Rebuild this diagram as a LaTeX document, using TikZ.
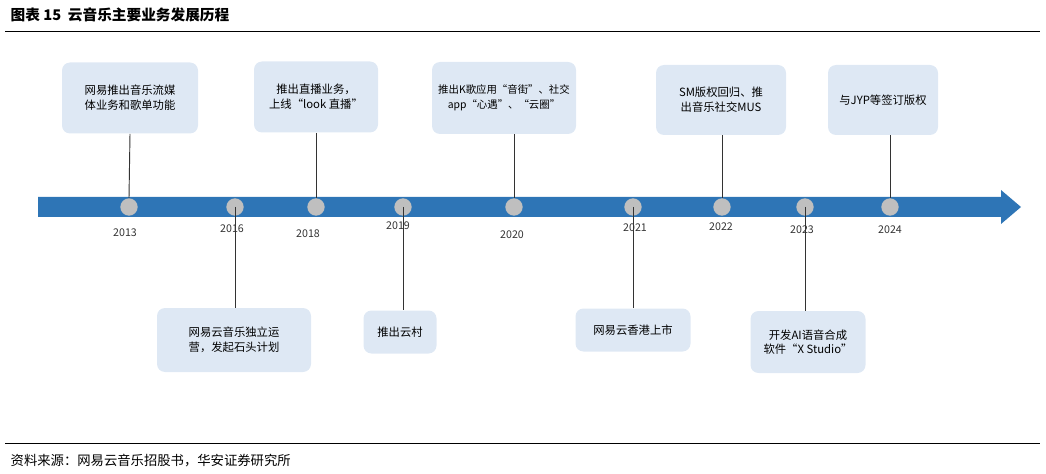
\documentclass[tikz,border=0pt]{standalone}
\usepackage{fontspec}
\setmainfont{Noto Sans CJK SC}
\begin{document}
\begin{tikzpicture}[x=0.75pt,y=-0.75pt,
 ev/.style={fill=boxc,rounded corners=6pt,align=center,font=\fontsize{8.5}{11}\selectfont,inner sep=0pt},
 dot/.style={circle,fill=dotc,minimum size=13pt,inner sep=0pt},
 yr/.style={font=\fontsize{8}{10}\selectfont,text=black!80},
 stem/.style={draw=black!80,line width=0.7pt}]
\definecolor{boxc}{HTML}{DEE8F4}
\definecolor{dotc}{HTML}{BFBFBF}
\definecolor{arrc}{HTML}{2E75B6}
\useasboundingbox (0,0) rectangle (1046,474);
\node[anchor=west,font=\bfseries\fontsize{11}{13}\selectfont] (title) at (6,15) {图表 15\ \ 云音乐主要业务发展历程};
\draw[line width=0.6pt] (5,31) -- (1040,31);
\draw[line width=0.6pt] (5,443) -- (1040,443);
\node[anchor=west,font=\fontsize{10}{12}\selectfont] (src) at (6,461) {资料来源：网易云音乐招股书，华安证券研究所};
% arrow
\fill[arrc] (38,197) -- (1001,197) -- (1001,190) -- (1021,207) -- (1001,224) -- (1001,217) -- (38,217) -- cycle;
% top boxes
\node[ev,minimum width=136*0.75pt,minimum height=71*0.75pt] (b13) at (130,98) {网易推出音乐流媒\\体业务和歌单功能};
\node[ev,minimum width=124*0.75pt,minimum height=71*0.75pt] (b18) at (316,97) {推出直播业务，\\上线“look 直播”};
\node[ev,minimum width=144*0.75pt,minimum height=72*0.75pt,font=\fontsize{7.8}{11}\selectfont] (b20) at (504,98) {推出K歌应用“音街”、社交\\app“心遇”、“云圈”};
\node[ev,minimum width=130*0.75pt,minimum height=70*0.75pt] (b22) at (721,100) {SM版权回归、推\\出音乐社交MUS};
\node[ev,minimum width=110*0.75pt,minimum height=70*0.75pt] (b24) at (883,100) {与JYP等签订版权};
% bottom boxes
\node[ev,minimum width=154*0.75pt,minimum height=64*0.75pt] (b16) at (234,340) {网易云音乐独立运\\营，发起石头计划};
\node[ev,minimum width=73*0.75pt,minimum height=43*0.75pt] (b19) at (400,332) {推出云村};
\node[ev,minimum width=115*0.75pt,minimum height=43*0.75pt] (b21) at (633,330) {网易云香港上市};
\node[ev,minimum width=115*0.75pt,minimum height=62*0.75pt] (b23) at (808,342) {开发AI语音合成\\软件“X Studio”};
% dots
\foreach \n/\x in {13/129,16/235,18/316,19/403,20/514,21/633,22/722,23/805,24/890}
  \node[dot] (d\n) at (\x,207) {};
% stems
\draw[stem] (b13.south) -- (d13.north);
\draw[stem] (b18.south) -- (d18.north);
\draw[stem] (b20.south-|d20) -- (d20.north);
\draw[stem] (b22.south-|d22) -- (d22.north);
\draw[stem] (b24.south-|d24) -- (d24.north);
\draw[stem] (d16.center) -- (b16.north-|d16);
\draw[stem] (d19.center) -- (b19.north-|d19);
\draw[stem] (d21.center) -- (b21.north-|d21);
\draw[stem] (d23.center) -- (b23.north-|d23);
% years
\node[yr] (y13) at (125,233) {2013};
\node[yr] (y16) at (232,229) {2016};
\node[yr] (y18) at (308,234) {2018};
\node[yr] (y19) at (398,226) {2019};
\node[yr] (y20) at (512,235) {2020};
\node[yr] (y21) at (635,228) {2021};
\node[yr] (y22) at (721,227) {2022};
\node[yr] (y23) at (802,230) {2023};
\node[yr] (y24) at (890,230) {2024};
\end{tikzpicture}
\end{document}
